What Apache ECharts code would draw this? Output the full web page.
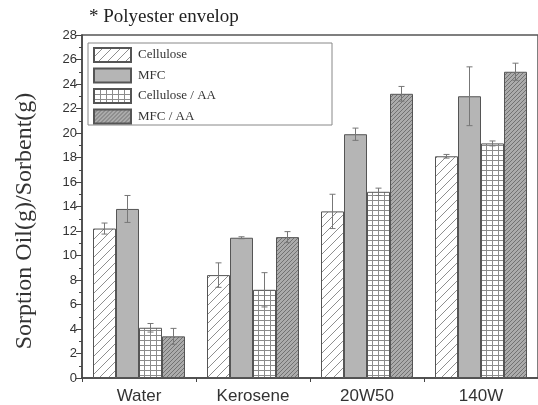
<!DOCTYPE html>
<html>
<head>
<meta charset="utf-8">
<script src="https://cdn.jsdelivr.net/npm/echarts@6/dist/echarts.min.js"></script>
<style>
  html, body { margin: 0; padding: 0; background: #fff; }
  #chart { width: 538px; height: 405px; }
</style>
</head>
<body>
<div id="chart"></div>
<script>
// data
const categories = ['Water', 'Kerosene', '20W50', '140W'];
const seriesNames = ['Cellulose', 'MFC', 'Cellulose / AA', 'MFC / AA'];
const cellulose = [12.2, 8.4, 13.6, 18.1];
const mfc = [13.8, 11.45, 19.9, 23.0];
const celluloseAA = [4.1, 7.2, 15.2, 19.15];
const mfcAA = [3.4, 11.5, 23.2, 25.0];
const celluloseErr = [0.45, 1.0, 1.4, 0.15];
const mfcErr = [1.1, 0.08, 0.5, 2.4];
const celluloseAAErr = [0.35, 1.4, 0.3, 0.2];
const mfcAAErr = [0.65, 0.45, 0.6, 0.7];

const BAR_W = 23;

// fill patterns
function makeHatch(size, bg, fg) {
  const c = document.createElement('canvas');
  c.width = size; c.height = size;
  const ctx = c.getContext('2d');
  ctx.fillStyle = bg;
  ctx.fillRect(0, 0, size, size);
  ctx.strokeStyle = fg;
  ctx.lineWidth = 1;
  ctx.beginPath();
  ctx.moveTo(0, size); ctx.lineTo(size, 0);
  ctx.moveTo(-1, 1); ctx.lineTo(1, -1);
  ctx.moveTo(size - 1, size + 1); ctx.lineTo(size + 1, size - 1);
  ctx.stroke();
  return c;
}
function makeGrid(w, h, bg, fg) {
  const c = document.createElement('canvas');
  c.width = w; c.height = h;
  const ctx = c.getContext('2d');
  ctx.fillStyle = bg;
  ctx.fillRect(0, 0, w, h);
  ctx.fillStyle = fg;
  ctx.fillRect(0, 0, w, 1);
  ctx.fillRect(0, 0, 1, h);
  return c;
}

const fills = [
  { image: makeHatch(9, '#ffffff', '#8f8f8f'), repeat: 'repeat' },
  '#b5b5b5',
  { image: makeGrid(6, 5, '#ffffff', '#8c8c8c'), repeat: 'repeat' },
  { image: makeHatch(4, '#ababab', '#727272'), repeat: 'repeat' }
];
const values = [cellulose, mfc, celluloseAA, mfcAA];
const errs = [celluloseErr, mfcErr, celluloseAAErr, mfcAAErr];

const chart = echarts.init(document.getElementById('chart'));

let series = [];
for (let i = 0; i < 4; i++) {
  series.push({
    name: seriesNames[i],
    type: 'bar',
    barWidth: BAR_W,
    barGap: '0%',
    itemStyle: {
      color: fills[i],
      borderColor: '#555',
      borderWidth: 1
    },
    data: values[i]
  });
}
// error bars
for (let i = 0; i < 4; i++) {
  let errData = [];
  for (let j = 0; j < categories.length; j++) {
    errData.push([j, values[i][j], errs[i][j]]);
  }
  series.push({
    type: 'custom',
    z: 5,
    silent: true,
    renderItem: function (params, api) {
      let cat = api.value(0);
      let v = api.value(1);
      let e = api.value(2);
      let top = api.coord([cat, v + e]);
      let bot = api.coord([cat, v - e]);
      let x = top[0] + (i - 1.5) * BAR_W;
      let style = { stroke: '#777', lineWidth: 1 };
      return {
        type: 'group',
        children: [
          { type: 'line', shape: { x1: x, y1: top[1], x2: x, y2: bot[1] }, style: style },
          { type: 'line', shape: { x1: x - 3, y1: top[1], x2: x + 3, y2: top[1] }, style: style },
          { type: 'line', shape: { x1: x - 3, y1: bot[1], x2: x + 3, y2: bot[1] }, style: style }
        ]
      };
    },
    data: errData
  });
}

const option = {
  animation: false,
  title: {
    text: '* Polyester envelop',
    left: 84,
    top: 3,
    textStyle: { fontFamily: 'Liberation Serif', fontWeight: 'normal', fontSize: 19, color: '#222' }
  },
  grid: {
    left: 82, top: 35, width: 464, height: 343,
    show: true, borderColor: '#555', borderWidth: 1.5
  },
  legend: {
    orient: 'vertical',
    left: 93,
    top: 47,
    padding: 0,
    itemWidth: 37,
    itemHeight: 14,
    itemGap: 4.5,
    icon: 'rect',
    data: seriesNames,
    textStyle: { fontFamily: 'Liberation Serif', fontSize: 13, color: '#333', padding: [0, 0, 0, 2] }
  },
  graphic: [{
    type: 'rect',
    shape: { x: 88, y: 43, width: 244, height: 82 },
    style: { fill: 'none', stroke: '#888', lineWidth: 1 },
    z: -1
  }, {
    type: 'text',
    x: 25,
    y: 221,
    rotation: Math.PI / 2,
    style: {
      text: 'Sorption Oil(g)/Sorbent(g)',
      font: '24px "Liberation Serif"',
      fill: '#333',
      align: 'center',
      verticalAlign: 'middle'
    }
  }],
  xAxis: [{
    type: 'category',
    data: categories,
    axisLine: { lineStyle: { color: '#444', width: 1.5 } },
    axisTick: { alignWithLabel: true, length: 6, lineStyle: { color: '#444' } },
    axisLabel: { fontFamily: 'Liberation Sans', fontSize: 17, color: '#333', margin: 10 }
  }, {
    type: 'value',
    min: 0,
    max: 4,
    interval: 1,
    position: 'bottom',
    axisLine: { show: false },
    axisTick: { show: true, length: 4, lineStyle: { color: '#444' } },
    axisLabel: { show: false },
    splitLine: { show: false }
  }],
  yAxis: {
    type: 'value',
    min: 0,
    max: 28,
    interval: 2,
    axisLine: { show: true, lineStyle: { color: '#444', width: 1.5 } },
    axisTick: { show: true, length: 6, lineStyle: { color: '#444' } },
    minorTick: { show: true, splitNumber: 2, length: 3, lineStyle: { color: '#444' } },
    axisLabel: { fontFamily: 'Liberation Sans', fontSize: 13, color: '#333', margin: 5 },
    splitLine: { show: false }
  },
  series: series
};
chart.setOption(option);
</script>
</body>
</html>
